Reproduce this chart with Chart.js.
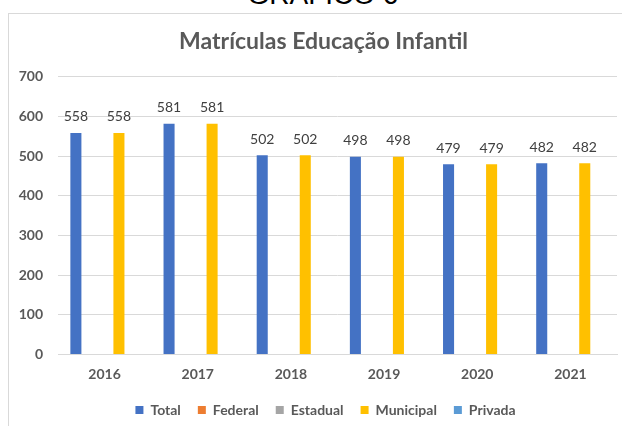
<!DOCTYPE html>
<html>
<head>
<meta charset="utf-8">
<script src="https://cdn.jsdelivr.net/npm/chart.js@4.4.0/dist/chart.umd.min.js"></script>
<style>
  html, body { margin: 0; padding: 0; background: #fff; overflow: hidden; }
  #page { position: relative; width: 622px; height: 426px; overflow: hidden; }
  #caption {
    position: absolute; left: 0; width: 646px; top: -19px;
    text-align: center; font: 28px "Liberation Sans", Arial, sans-serif; color: #000;
    line-height: 1;
  }
  #frame {
    position: absolute; left: 8px; top: 13px; width: 640px; height: 440px;
    border: 1px solid #d9d9d9; box-sizing: border-box;
  }
  #chart { position: absolute; left: 0; top: 0; }
</style>
</head>
<body>
<div id="page">
  <div id="caption">GRÁFICO 6</div>
  <div id="frame"></div>
  <canvas id="chart" width="622" height="426"></canvas>
</div>
<script>
const years = ['2016', '2017', '2018', '2019', '2020', '2021'];
const total = [558, 581, 502, 498, 479, 482];
const federal = [0, 0, 0, 0, 0, 0];
const estadual = [0, 0, 0, 0, 0, 0];
const municipal = [558, 581, 502, 498, 479, 482];
const privada = [0, 0, 0, 0, 0, 0];

const textGray = '#595959';
const gridGray = '#d9d9d9';

// data labels on top of the Total and Municipal bars
const valueLabels = {
  id: 'valueLabels',
  afterDatasetsDraw(chart) {
    const ctx = chart.ctx;
    ctx.save();
    ctx.font = '14px Lato';
    ctx.fillStyle = '#404040';
    ctx.textAlign = 'center';
    ctx.textBaseline = 'bottom';
    chart.data.datasets.forEach((ds, i) => {
      if (!ds.showValues) return;
      chart.getDatasetMeta(i).data.forEach((bar, j) => {
        ctx.fillText(ds.data[j], bar.x, bar.y - 9);
      });
    });
    ctx.restore();
  }
};

// the original chart frame is wider than the window, so title and legend
// are centred a bit to the right of the plot
const shiftBoxes = {
  id: 'shiftBoxes',
  afterLayout(chart) {
    chart.titleBlock.left += 11;
    chart.titleBlock.right += 11;
    chart.legend.left += 13;
    chart.legend.right += 13;
  }
};

new Chart(document.getElementById('chart'), {
  type: 'bar',
  data: {
    labels: years,
    datasets: [
      { label: 'Total', data: total, backgroundColor: '#4472C4', showValues: true },
      { label: 'Federal', data: federal, backgroundColor: '#ED7D31' },
      { label: 'Estadual', data: estadual, backgroundColor: '#A5A5A5' },
      { label: 'Municipal', data: municipal, backgroundColor: '#FFC000', showValues: true },
      { label: 'Privada', data: privada, backgroundColor: '#5B9BD5' }
    ]
  },
  options: {
    responsive: false,
    devicePixelRatio: 1,
    animation: false,
    categoryPercentage: 0.77,
    barPercentage: 0.77,
    layout: { padding: { left: 8, right: 5, top: 13, bottom: 0 } },
    plugins: {
      title: {
        display: true,
        text: 'Matrículas Educação Infantil',
        color: textGray,
        font: { family: 'Lato', size: 23, weight: 'bold' },
        padding: { top: 15, bottom: 21 }
      },
      legend: {
        position: 'bottom',
        maxHeight: 40,
        labels: {
          boxWidth: 8,
          boxHeight: 8,
          padding: 17,
          color: textGray,
          font: { family: 'Lato', size: 14, weight: 'bold' }
        }
      },
      tooltip: { enabled: false }
    },
    scales: {
      x: {
        afterFit: (scale) => { scale.height = 31.5; },
        grid: { display: false, drawTicks: false },
        border: { display: true, color: gridGray },
        ticks: {
          color: textGray,
          padding: 12,
          font: { family: 'Lato', size: 14, weight: 'bold' }
        }
      },
      y: {
        min: 0,
        max: 700,
        afterFit: (scale) => { scale.width = 50; },
        grid: { color: gridGray, drawTicks: false },
        border: { display: false },
        ticks: {
          stepSize: 100,
          padding: 15,
          color: textGray,
          font: { family: 'Lato', size: 14, weight: 'bold' }
        }
      }
    }
  },
  plugins: [valueLabels, shiftBoxes]
});
</script>
</body>
</html>
